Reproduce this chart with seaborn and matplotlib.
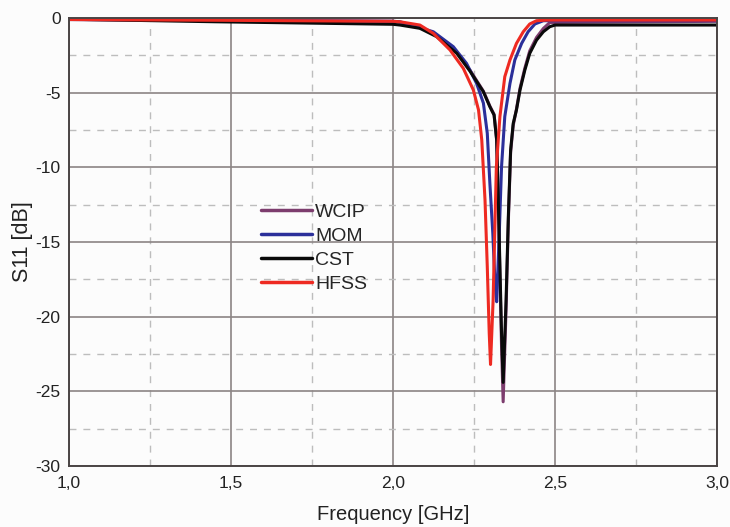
import numpy as np
import pandas as pd
import matplotlib
matplotlib.use("Agg")
import matplotlib.pyplot as plt
import seaborn as sns
from matplotlib.ticker import MultipleLocator, FuncFormatter

# ---- data ----
f_hfss = [1.00, 1.45, 2.00, 2.0216, 2.083, 2.1245, 2.176, 2.217, 2.248, 2.264, 2.274, 2.284, 2.291, 2.297, 2.301,
          2.309, 2.314, 2.319, 2.330, 2.345, 2.361, 2.381, 2.402, 2.422, 2.443, 2.474, 3.00]
s_hfss = [-0.10, -0.15, -0.22, -0.25, -0.47, -1.03, -2.14, -3.37, -4.82, -6.16, -8.17, -12.19, -16.65, -21.1, -23.2,
          -18.9, -14.4, -9.96, -6.6, -3.93, -2.81, -1.7, -0.92, -0.4, -0.18, -0.14, -0.14]

f_mom = [1.00, 1.45, 2.00, 2.0216, 2.1245, 2.1862, 2.227, 2.258, 2.279, 2.291, 2.299, 2.308, 2.315, 2.320,
         2.328, 2.335, 2.345, 2.361, 2.376, 2.397, 2.417, 2.438, 2.464, 3.00]
s_mom = [-0.10, -0.15, -0.22, -0.25, -0.92, -1.92, -3.04, -4.38, -5.7, -7.72, -11.07, -14.4, -17.8, -19.0,
         -14.4, -9.96, -6.6, -4.38, -2.81, -1.7, -0.92, -0.4, -0.18, -0.18]

f_cst = [1.00, 1.45, 2.00, 2.0216, 2.083, 2.135, 2.197, 2.238, 2.279, 2.299, 2.312, 2.320, 2.325, 2.330, 2.335, 2.340,
         2.349, 2.356, 2.363, 2.371, 2.381, 2.392, 2.407, 2.422, 2.443, 2.464, 2.484, 2.500, 3.00]
s_cst = [-0.08, -0.25, -0.42, -0.47, -0.69, -1.25, -2.37, -3.57, -4.94, -5.94, -6.5, -8.17, -12.2, -16.65, -21.1, -24.4,
         -18.9, -13.3, -8.85, -7.06, -6.16, -4.82, -3.48, -2.37, -1.48, -0.92, -0.58, -0.47, -0.47]

f_wcip = [1.00, 1.45, 2.00, 2.0216, 2.083, 2.135, 2.197, 2.238, 2.279, 2.299, 2.312, 2.320, 2.325, 2.330, 2.335, 2.340,
          2.349, 2.356, 2.363, 2.371, 2.381, 2.392, 2.407, 2.422, 2.443, 2.464, 2.484, 3.00]
s_wcip = [-0.10, -0.15, -0.22, -0.30, -0.62, -1.18, -2.30, -3.50, -4.90, -5.90, -6.45, -8.2, -12.5, -17.2, -22.0, -25.7,
          -19.5, -13.6, -9.0, -7.2, -6.1, -4.7, -3.35, -2.2, -1.3, -0.7, -0.3, -0.22]

series = ["WCIP", "MOM", "CST", "HFSS"]
colors = ["#7d3d6e", "#2b2f9a", "#0a0a0a", "#ee2a22"]

frames = []
for name, fx, sy in [("WCIP", f_wcip, s_wcip), ("MOM", f_mom, s_mom),
                     ("CST", f_cst, s_cst), ("HFSS", f_hfss, s_hfss)]:
    frames.append(pd.DataFrame({"Frequency": fx, "S11": sy, "Method": name}))
df = pd.concat(frames, ignore_index=True)

sns.set_style("white")
plt.rcParams["font.family"] = ["Liberation Sans", "DejaVu Sans"]

fig = plt.figure(figsize=(7.3, 5.27), dpi=100, facecolor="#fcfcfc")
ax = fig.add_axes([0.0945, 0.1157, 0.8877, 0.8501])
ax.set_facecolor("#fcfcfc")

sns.lineplot(data=df, x="Frequency", y="S11", hue="Method", hue_order=series,
             palette=dict(zip(series, colors)), sort=False, estimator=None,
             linewidth=2.2, ax=ax)

ax.set_xlim(1.0, 3.0)
ax.set_ylim(-30, 0)
ax.xaxis.set_major_locator(MultipleLocator(0.5))
ax.xaxis.set_minor_locator(MultipleLocator(0.25))
ax.yaxis.set_major_locator(MultipleLocator(5))
ax.yaxis.set_minor_locator(MultipleLocator(2.5))
ax.xaxis.set_major_formatter(FuncFormatter(lambda v, p: f"{v:.1f}".replace(".", ",")))
ax.yaxis.set_major_formatter(FuncFormatter(lambda v, p: f"{v:.0f}"))

ax.grid(which="major", color="#8c8585", linewidth=1.2, linestyle="-")
ax.grid(which="minor", color="#bdbdbd", linewidth=1.0, linestyle=(0, (5, 5)))
ax.set_axisbelow(True)
ax.tick_params(which="both", length=0, labelsize=12.5, colors="#222222")
ax.tick_params(axis="x", pad=7)
ax.tick_params(axis="y", pad=6)
for s in ax.spines.values():
    s.set_color("#4a4444")
    s.set_linewidth(1.4)

ax.set_xlabel("Frequency [GHz]", fontsize=14.5, color="#222222", labelpad=10)
ax.set_ylabel("S11 [dB]", fontsize=15.5, color="#222222", labelpad=2)

leg = ax.legend(loc="upper left", bbox_to_anchor=(0.27, 0.625), frameon=False,
                fontsize=14, handlelength=2.6, handletextpad=0.15, labelspacing=0.32)
for line in leg.get_lines():
    line.set_linewidth(2.5)

fig.savefig("out.png", dpi=100, facecolor=fig.get_facecolor())
